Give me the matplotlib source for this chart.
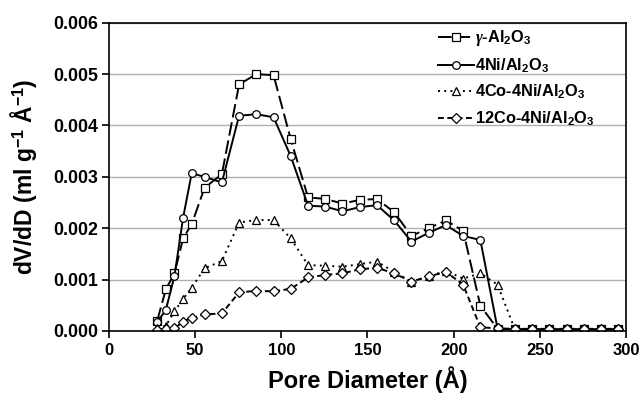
import numpy as np
import matplotlib
matplotlib.use("Agg")
import matplotlib.pyplot as plt
from matplotlib.ticker import FormatStrFormatter, MultipleLocator

plt.rcParams["font.family"] = ["Liberation Sans", "DejaVu Sans"]
plt.rcParams["font.weight"] = "bold"
plt.rcParams["mathtext.fontset"] = "custom"
plt.rcParams["mathtext.rm"] = "Liberation Sans:bold"
plt.rcParams["mathtext.bf"] = "Liberation Sans:bold"
plt.rcParams["mathtext.it"] = "Liberation Serif:italic"

# pore diameter (Å)
diam = [28, 33, 38, 43, 48, 55.5, 65.5, 75.5, 85.5, 95.5, 105.5, 115.5, 125.5,
        135.5, 145.5, 155.5, 165.5, 175.5, 185.5, 195.5, 205.5, 215.5, 225.5,
        235.5, 245.5, 255.5, 265.5, 275.5, 285.5, 295.5]

# dV/dD (ml g-1 Å-1)
al2o3 = [0.0002, 0.00081, 0.00112, 0.0018, 0.00208, 0.00279, 0.00305, 0.0048,
         0.0050, 0.00498, 0.00373, 0.0026, 0.00257, 0.00248, 0.00255, 0.00257,
         0.00231, 0.00185, 0.0020, 0.00215, 0.00195, 0.00049, 0.00004,
         0.00003, 0.00003, 0.00003, 0.00003, 0.00003, 0.00003, 0.00003]
ni4 = [0.00017, 0.00041, 0.00107, 0.0022, 0.00307, 0.0030, 0.00289, 0.00419,
       0.00422, 0.00416, 0.0034, 0.00244, 0.00242, 0.00233, 0.00241, 0.00245,
       0.00215, 0.00174, 0.00191, 0.00206, 0.00185, 0.00177, 0.00004,
       0.00003, 0.00003, 0.00003, 0.00003, 0.00003, 0.00003, 0.00003]
co4ni4 = [0.00006, 0.0001, 0.00038, 0.00062, 0.00084, 0.00122, 0.00136,
          0.00211, 0.00216, 0.00216, 0.0018, 0.00128, 0.00127, 0.00125,
          0.0013, 0.00135, 0.00115, 0.00096, 0.00106, 0.00117, 0.00102,
          0.00112, 0.0009, 0.00003, 0.00002, 0.00002, 0.00002, 0.00002,
          0.00002, 0.00002]
co12ni4 = [0.00002, 0.00003, 0.00005, 0.00018, 0.00025, 0.00032, 0.00034,
           0.00075, 0.00078, 0.00077, 0.00082, 0.00104, 0.00109, 0.00112,
           0.0012, 0.00123, 0.00112, 0.00096, 0.00106, 0.00115, 0.0009,
           0.00007, 0.00005, 0.00004, 0.00004, 0.00004, 0.00004, 0.00004,
           0.00004, 0.00004]

labels = [r"$\gamma$-Al$_2$O$_3$", r"4Ni/Al$_2$O$_3$",
          r"4Co-4Ni/Al$_2$O$_3$", r"12Co-4Ni/Al$_2$O$_3$"]

fig = plt.figure(figsize=(6.41, 3.93), dpi=100)
ax = fig.add_axes([0.170, 0.158, 0.8066, 0.784])

mk = dict(color="black", mfc="white", mec="black", ms=5.5, mew=0.9, lw=1.4)
ax.plot(diam, al2o3, marker="s", dashes=(7, 2.5), label=labels[0], **mk)
ax.plot(diam, ni4, marker="o", ls="-", label=labels[1], **mk)
ax.plot(diam, co4ni4, marker="^", dashes=(1, 2.2), label=labels[2], **mk)
ax.plot(diam, co12ni4, marker="D", dashes=(3, 1.8), label=labels[3],
        **{**mk, "ms": 5})

ax.set_xlim(0, 300)
ax.set_ylim(0, 0.006)
ax.xaxis.set_major_locator(MultipleLocator(50))
ax.yaxis.set_major_locator(MultipleLocator(0.001))
ax.yaxis.set_major_formatter(FormatStrFormatter("%.3f"))
ax.grid(axis="y", color="#b0b0b0", lw=1)
ax.set_axisbelow(True)
for s in ax.spines.values():
    s.set_linewidth(1.2)
ax.tick_params(direction="out", length=5, width=1.2)
ax.tick_params(axis="x", labelsize=12)
ax.tick_params(axis="y", labelsize=12.8, pad=3)
for t in ax.get_xticklabels() + ax.get_yticklabels():
    t.set_fontweight("bold")

ax.set_xlabel("Pore Diameter (Å)", fontsize=17, fontweight="bold")
ax.xaxis.set_label_coords(0.5, -0.113)
ax.set_ylabel(r"dV/dD (ml g$^{-1}$ Å$^{-1}$)", fontsize=16.5,
              fontweight="bold")
ax.yaxis.set_label_coords(-0.135, 0.5)

leg = ax.legend(loc="upper left", bbox_to_anchor=(0.607, 1.03), frameon=False,
                handlelength=2.2, handletextpad=0.1, labelspacing=0.5,
                prop={"weight": "bold", "size": 11.8})

fig.savefig("out.png", dpi=100)
